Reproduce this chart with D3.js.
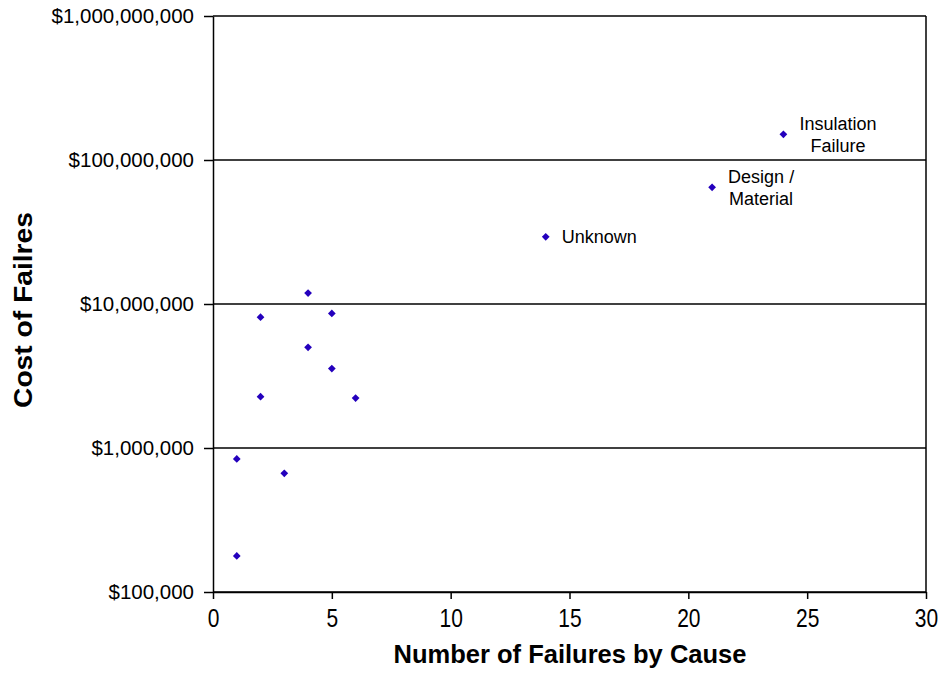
<!DOCTYPE html>
<html>
  <head>
    <meta charset="UTF-8">
    <title>Cost of Failures</title>
  <style type="text/css">
    body { margin: 0; background: #fff; }
    text { font-family: Arial, 'Liberation Sans', sans-serif; fill: #000; }
  </style>
  </head>
  <body>
    <script src="https://cdn.jsdelivr.net/npm/d3@7"></script>
    <script>

      // Data
      var failures = [1, 1, 2, 2, 3, 4, 4, 5, 5, 6, 14, 21, 24];
      var costs = [840000, 178000, 8100000, 2270000, 667000, 11900000, 5000000,
                   8600000, 3560000, 2220000, 29300000, 64600000, 150800000];
      var labels = ["", "", "", "", "", "", "", "", "", "", "Unknown",
                    "Design /|Material", "Insulation|Failure"];

      var xTicks = [0, 5, 10, 15, 20, 25, 30];
      var yTicks = [1e5, 1e6, 1e7, 1e8, 1e9];
      var xTitle = "Number of Failures by Cause";
      var yTitle = "Cost of Failres";

      var data = failures.map(function(f, i) {
        return {n: f, cost: costs[i], label: labels[i]};
      });

      // Build svg and canvas
      var svgWidth = 943,
          svgHeight = 686,
          margin = {top: 16, right: 17, bottom: 94, left: 213},
          width = svgWidth - margin.left - margin.right,
          height = svgHeight - margin.top - margin.bottom;

      var svg = d3.select("body")
                  .append("svg")
                  .attr("width", svgWidth)
                  .attr("height", svgHeight);

      var canvas = svg.append("g")
                      .attr("transform", "translate(" + margin.left + "," + margin.top + ")");

      // Scales
      var xScale = d3.scaleLinear()
                     .domain([0, 30])
                     .range([0, width]);

      var yScale = d3.scaleLog()
                     .domain([1e5, 1e9])
                     .range([height, 0]);

      // Gridlines
      canvas.append("g")
            .selectAll("line")
            .data(yTicks)
            .enter()
            .append("line")
            .attr("x1", 0)
            .attr("x2", width)
            .attr("y1", d => yScale(d))
            .attr("y2", d => yScale(d))
            .attr("stroke", "#000")
            .attr("stroke-width", 1.5);

      // right border
      canvas.append("line")
            .attr("x1", width).attr("x2", width)
            .attr("y1", 0).attr("y2", height)
            .attr("stroke", "#000")
            .attr("stroke-width", 1.5);

      // Axes
      var yAxis = d3.axisLeft(yScale)
                    .tickValues(yTicks)
                    .tickFormat(d3.format("$,"))
                    .tickSizeInner(9)
                    .tickSizeOuter(0)
                    .tickPadding(10);

      var xAxis = d3.axisBottom(xScale)
                    .tickValues(xTicks)
                    .tickSizeInner(7)
                    .tickSizeOuter(0)
                    .tickPadding(12);

      var gy = canvas.append("g").call(yAxis);
      var gx = canvas.append("g")
                     .attr("transform", "translate(0," + height + ")")
                     .call(xAxis);

      [gx, gy].forEach(function(g) {
        g.select(".domain").attr("stroke", "#000").attr("stroke-width", 1.5);
        g.selectAll(".tick line").attr("stroke", "#000").attr("stroke-width", 1.5);
        g.selectAll(".tick text").attr("fill", "#000").attr("font-family", null);
      });
      gy.selectAll(".tick text").attr("font-size", "20.5px");
      gx.selectAll(".tick text")
        .attr("font-size", "21px")
        .attr("dy", null)
        .attr("y", 0)
        .attr("transform", "translate(0,35) scale(1,1.2)");

      // Axis titles
      svg.append("text")
         .attr("x", 570)
         .attr("y", 663)
         .attr("text-anchor", "middle")
         .attr("font-weight", "bold")
         .attr("font-size", "25.5px")
         .text(xTitle);

      svg.append("text")
         .attr("transform", "translate(32,310) rotate(-90)")
         .attr("text-anchor", "middle")
         .attr("font-weight", "bold")
         .attr("font-size", "25px")
         .attr("textLength", 196)
         .attr("lengthAdjust", "spacingAndGlyphs")
         .text(yTitle);

      // Points
      var marker = d3.symbol().type(d3.symbolSquare).size(30);

      canvas.selectAll("path.pt")
            .data(data)
            .enter()
            .append("path")
            .attr("class", "pt")
            .attr("d", marker)
            .attr("fill", "#2400bd")
            .attr("transform", d => "translate(" + xScale(d.n) + "," + yScale(d.cost) + ") rotate(45)");

      // Point labels
      var lab = canvas.selectAll("text.lab")
                      .data(data.filter(d => d.label !== ""))
                      .enter()
                      .append("text")
                      .attr("class", "lab")
                      .attr("font-size", "18px")
                      .attr("text-anchor", "middle");

      lab.each(function(d) {
        var lines = d.label.split("|");
        var t = d3.select(this);
        lines.forEach(function(s, i) {
          t.append("tspan")
           .attr("y", yScale(d.cost) + (i - (lines.length - 1) / 2) * 22 + 6.5)
           .text(s);
        });
        var w = d3.max(t.selectAll("tspan").nodes(), n => n.getComputedTextLength());
        t.selectAll("tspan").attr("x", xScale(d.n) + 16 + w / 2);
      });

    </script>
  </body>
</html>
